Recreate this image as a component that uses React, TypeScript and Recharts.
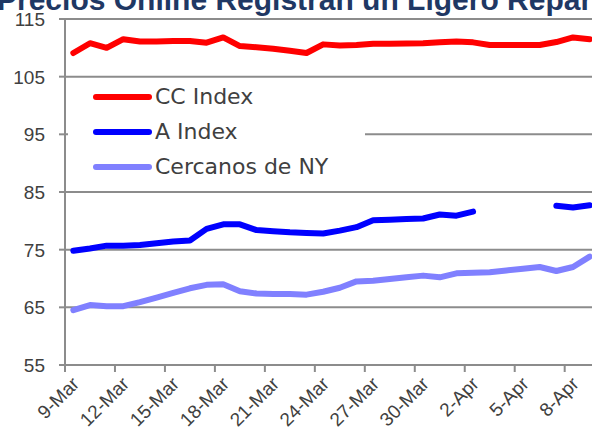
import React from 'react';
import { LineChart, Line, XAxis, YAxis, CartesianGrid, Legend } from 'recharts';

const dates = [
  '9-Mar', '10-Mar', '11-Mar', '12-Mar', '13-Mar', '14-Mar', '15-Mar', '16-Mar',
  '17-Mar', '18-Mar', '19-Mar', '20-Mar', '21-Mar', '22-Mar', '23-Mar', '24-Mar',
  '25-Mar', '26-Mar', '27-Mar', '28-Mar', '29-Mar', '30-Mar', '31-Mar', '1-Apr',
  '2-Apr', '3-Apr', '4-Apr', '5-Apr', '6-Apr', '7-Apr', '8-Apr', '9-Apr',
];
const ccIndex = [
  109.1, 110.8, 110.0, 111.5, 111.1, 111.1, 111.2, 111.2,
  110.9, 111.8, 110.3, 110.1, 109.85, 109.5, 109.1, 110.6,
  110.4, 110.5, 110.7, 110.7, 110.75, 110.8, 110.95, 111.1,
  110.95, 110.5, 110.5, 110.5, 110.5, 111.0, 111.8, 111.5,
];
const aIndex = [
  74.8, 75.2, 75.7, 75.7, 75.8, 76.1, 76.4, 76.6,
  78.6, 79.4, 79.4, 78.4, 78.2, 78.0, 77.9, 77.8,
  78.3, 78.9, 80.1, 80.2, 80.3, 80.4, 81.1, 80.9,
  81.6, null, null, null, null, 82.6, 82.3, 82.7,
];
const cercanosNY = [
  64.5, 65.4, 65.2, 65.2, 65.9, 66.7, 67.5, 68.3,
  68.9, 69.0, 67.8, 67.4, 67.3, 67.3, 67.2, 67.7,
  68.4, 69.5, 69.6, 69.9, 70.2, 70.5, 70.2, 70.9,
  71.0, 71.1, 71.4, 71.7, 72.0, 71.3, 72.0, 73.8,
];
const yTicks = [55, 65, 75, 85, 95, 105, 115];

const series = [
  { key: 'cc', name: 'CC Index', color: '#FF0000' },
  { key: 'a', name: 'A Index', color: '#0000FF' },
  { key: 'ny', name: 'Cercanos de NY', color: '#8080FF' },
];

const rows = dates.map((d, i) => ({ date: d, cc: ccIndex[i], a: aIndex[i], ny: cercanosNY[i] }));

const GRID = '#8C8C8C';
const TEXT = '#404040';
const HALF = 8.33; // half a category, where Excel puts its tick marks
const tickFont = { fontSize: '19px', fontFamily: "'Liberation Sans', Arial, sans-serif" };

const DateTick = (props: any) => {
  const { x, y, payload } = props;
  const tx = x + 7;
  const ty = y + 20;
  return (
    <g>
      <line x1={x - HALF} x2={x - HALF} y1={y} y2={y + 7} stroke={GRID} strokeWidth={2} />
      <text x={tx} y={ty} textAnchor="end" transform={`rotate(-45, ${tx}, ${ty})`} fill={TEXT} style={tickFont}>
        {payload.value}
      </text>
    </g>
  );
};

const ValueTick = (props: any) => {
  const { x, y, payload } = props;
  return (
    <text x={x} y={y} dy={7} textAnchor="end" fill={TEXT} style={tickFont}>
      {payload.value}
    </text>
  );
};

const LegendBox = () => (
  <div style={{ width: 297, height: 108, background: '#fff' }}>
    {series.map((s) => (
      <div key={s.key} style={{ display: 'flex', alignItems: 'center', height: 35, paddingLeft: 25 }}>
        <span style={{ width: 59, height: 6, borderRadius: 3, background: s.color, display: 'inline-block' }} />
        <span style={{ marginLeft: 3, fontSize: 22, color: TEXT, fontFamily: "'DejaVu Sans', sans-serif", lineHeight: '35px' }}>
          {s.name}
        </span>
      </div>
    ))}
  </div>
);

export default function App() {
  return (
    <div style={{ position: 'absolute', left: 0, top: 0, width: 592, height: 437, overflow: 'hidden', background: '#fff' }}>
      <div
        style={{
          position: 'absolute', left: -3, top: -15, whiteSpace: 'nowrap',
          fontFamily: "'Liberation Sans', Arial, sans-serif", fontWeight: 'bold',
          fontSize: 30, lineHeight: '30px', color: '#1F3864',
        }}
      >
        Precios Online Registran un Ligero Repar
      </div>
      <LineChart width={600} height={437} data={rows} margin={{ top: 19, right: 2, left: 0, bottom: 0 }}>
        <CartesianGrid vertical={false} stroke={GRID} strokeWidth={2} />
        <XAxis
          dataKey="date"
          interval={2}
          height={72}
          padding={{ left: HALF, right: HALF }}
          axisLine={{ stroke: GRID, strokeWidth: 2 }}
          tickLine={false}
          tickSize={0}
          tickMargin={0}
          tick={<DateTick />}
        />
        <YAxis
          width={65}
          domain={[55, 115]}
          ticks={yTicks}
          interval={0}
          axisLine={{ stroke: GRID, strokeWidth: 2 }}
          tickLine={{ stroke: GRID, strokeWidth: 2 }}
          tickSize={6}
          tickMargin={14}
          tick={<ValueTick />}
        />
        <Legend
          layout="horizontal"
          align="center"
          verticalAlign="middle"
          content={<LegendBox />}
          wrapperStyle={{ position: 'absolute', left: 68, top: 79, width: 297, height: 108 }}
        />
        {series.map((s) => (
          <Line
            key={s.key}
            type="linear"
            dataKey={s.key}
            name={s.name}
            stroke={s.color}
            strokeWidth={6}
            strokeLinecap="round"
            strokeLinejoin="round"
            dot={false}
            activeDot={false}
            isAnimationActive={false}
          />
        ))}
      </LineChart>
    </div>
  );
}
